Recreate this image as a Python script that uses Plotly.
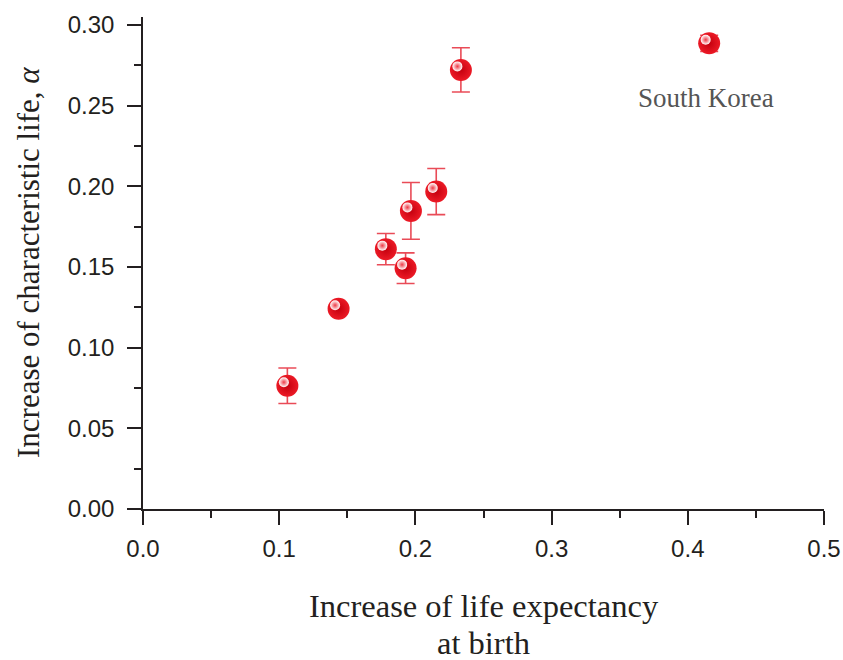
import plotly.graph_objects as go

# Increase of life expectancy at birth vs. increase of characteristic life
life_exp_increase = [0.106, 0.1436, 0.1783, 0.1928, 0.1967, 0.2153, 0.2334, 0.4157]
char_life_increase = [0.0764, 0.1241, 0.1611, 0.1493, 0.1848, 0.1968, 0.2722, 0.2887]
char_life_err = [0.011, 0.0, 0.0097, 0.0095, 0.0176, 0.0143, 0.0137, 0.005]

x_ticks = [0.0, 0.1, 0.2, 0.3, 0.4, 0.5]
y_ticks = [0.00, 0.05, 0.10, 0.15, 0.20, 0.25, 0.30]

W, H = 843, 660
M = dict(l=143, r=19, t=17, b=151)
X_RANGE = [0, 0.5]
Y_RANGE = [0, 0.305]

INK = "#231f20"
tick_font = dict(family="Liberation Sans, Arial, sans-serif", size=24, color=INK)
serif = "Liberation Serif, Times New Roman, serif"

fig = go.Figure()

# sphere body with error bars
fig.add_trace(go.Scatter(
    x=life_exp_increase, y=char_life_increase,
    mode="markers",
    error_y=dict(type="data", array=char_life_err, visible=True,
                 color="rgba(228,30,45,0.8)", thickness=1.6, width=9),
    marker=dict(size=22, color="#ec1a26",
                gradient=dict(type="radial", color="#c4000e"),
                line=dict(width=0)),
    showlegend=False, hoverinfo="skip",
))

# specular highlight, drawn on a slightly shifted overlay axis pair
px_w = (X_RANGE[1] - X_RANGE[0]) / (W - M["l"] - M["r"])
px_h = (Y_RANGE[1] - Y_RANGE[0]) / (H - M["t"] - M["b"])
dx, dy = 3.5 * px_w, 3.5 * px_h
fig.add_trace(go.Scatter(
    x=life_exp_increase, y=char_life_increase,
    xaxis="x2", yaxis="y2",
    mode="markers",
    marker=dict(size=10, color="#ffffff",
                gradient=dict(type="radial", color="#ee3a46"),
                line=dict(width=0)),
    showlegend=False, hoverinfo="skip",
))

axis_common = dict(
    showgrid=False, zeroline=False, showline=True, automargin=False,
    linecolor=INK, linewidth=1.5,
    ticks="outside", ticklen=14, tickwidth=1.5, tickcolor=INK,
    tickfont=tick_font,
)

fig.update_layout(
    width=W, height=H, margin=M,
    paper_bgcolor="white", plot_bgcolor="white",
    xaxis=dict(range=X_RANGE, tickvals=x_ticks,
               ticktext=[f"{v:.1f}" for v in x_ticks],
               minor=dict(dtick=0.05, ticklen=7, tickwidth=1.5, tickcolor=INK, ticks="outside"),
               ticklabelstandoff=3,
               **axis_common),
    yaxis=dict(range=Y_RANGE, tickvals=y_ticks,
               ticktext=[f"{v:.2f}" for v in y_ticks],
               minor=dict(dtick=0.025, ticklen=7, tickwidth=1.5, tickcolor=INK, ticks="outside"),
               ticklabelstandoff=8,
               **axis_common),
    xaxis2=dict(range=[X_RANGE[0] + dx, X_RANGE[1] + dx], overlaying="x",
                visible=False, showgrid=False, zeroline=False, automargin=False),
    yaxis2=dict(range=[Y_RANGE[0] - dy, Y_RANGE[1] - dy], overlaying="y",
                visible=False, showgrid=False, zeroline=False, automargin=False),
    annotations=[
        dict(text="Increase of life expectancy",
             xref="paper", yref="paper", x=0.5, y=0, xanchor="center", yanchor="top",
             yshift=-77, showarrow=False,
             font=dict(family=serif, size=32.5, color=INK)),
        dict(text="at birth",
             xref="paper", yref="paper", x=0.5, y=0, xanchor="center", yanchor="top",
             yshift=-114, showarrow=False,
             font=dict(family=serif, size=32.5, color=INK)),
        dict(text="Increase of characteristic life, <i>α</i>",
             xref="paper", yref="paper", x=0, y=0.5, xanchor="center", yanchor="middle",
             xshift=-115, textangle=-90, showarrow=False,
             font=dict(family=serif, size=31, color=INK)),
        dict(text="South Korea", xref="x", yref="y", x=0.4134, y=0.2548,
             xanchor="center", yanchor="middle", showarrow=False,
             font=dict(family=serif, size=27, color="#555555")),
    ],
)

fig.write_html("out.html")
